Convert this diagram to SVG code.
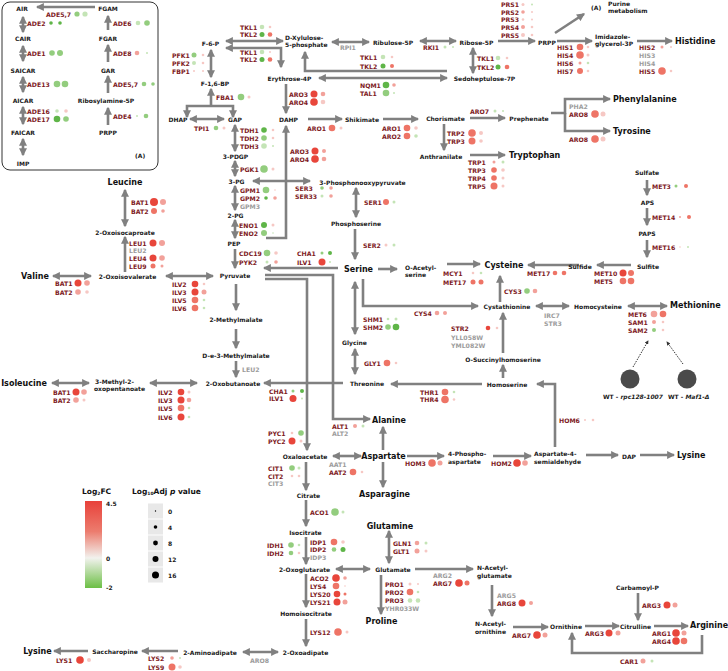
<svg xmlns="http://www.w3.org/2000/svg" width="728" height="671" viewBox="0 0 728 671">
<style>
text{font-family:"DejaVu Sans",Verdana,sans-serif;font-weight:bold;dominant-baseline:central}
.m{font-size:6px;fill:#1a1a1a}
.mc{font-size:6px;fill:#1a1a1a;text-anchor:middle}
.b{font-size:8px;fill:#111}
.bc{font-size:8px;fill:#111;text-anchor:middle}
.g{font-size:6.2px;fill:#7e1a1e}
.gg{font-size:6.2px;fill:#9c9c9c}
.R1{fill:#e8463b}.R2{fill:#ee7466}.R3{fill:#f2a19a}.R4{fill:#f6c8c4}
.G1{fill:#5fb548}.G2{fill:#93cd7e}.G3{fill:#c4e4b6}
#conn path{fill:none;stroke:#808080;stroke-width:2.6}
#conn .a{marker-end:url(#ah)}
#conn .d{marker-start:url(#ah);marker-end:url(#ah)}
#conn .dot{stroke:#333;stroke-width:1;stroke-dasharray:1.5 1.2;marker-end:url(#ahs)}
</style>
<defs>
<marker id="ah" viewBox="0 0 10 10" refX="8.5" refY="5" markerWidth="3.3" markerHeight="3.1" orient="auto-start-reverse"><path d="M0,0 L10,5 L0,10 z" fill="#808080"/></marker>
<marker id="ahs" viewBox="0 0 10 10" refX="8" refY="5" markerWidth="4" markerHeight="4" orient="auto"><path d="M0,0 L10,5 L0,10 z" fill="#333"/></marker>
<linearGradient id="fc" x1="0" y1="0" x2="0" y2="1">
<stop offset="0" stop-color="#e8413a"/><stop offset="0.35" stop-color="#ec7c6e"/><stop offset="0.655" stop-color="#f2f2ee"/><stop offset="1" stop-color="#6cbf45"/>
</linearGradient>
</defs>
<rect width="728" height="671" fill="#fff"/>
<rect x="2" y="2" width="156" height="168" rx="8" fill="#fff" stroke="#333" stroke-width="1"/>

<g id="conn">
<path class="a" d="M95,7 H37"/>
<path class="d" d="M23,17 V32"/>
<path class="d" d="M23,46 V61"/>
<path class="d" d="M23,77 V92"/>
<path class="d" d="M23,107 V124"/>
<path class="d" d="M23,139 V155"/>
<path class="a" d="M108,30 V16"/>
<path class="a" d="M108,62 V45"/>
<path class="a" d="M108,93 V76"/>
<path class="a" d="M108,125 V108"/>
<path class="d" d="M125,190 V226"/>
<path class="a" d="M125,272 V237"/>
<path class="d" d="M53,276 H91"/>
<path class="d" d="M166,276 H213"/>
<path class="d" d="M52,383 H89"/>
<path class="d" d="M150,383 H197"/>
<path class="d" d="M211,50 V77"/>
<path class="d" d="M187,117 V106 H233 V117"/>
<path class="a" d="M211,106 V89"/>
<path class="d" d="M190,119 H224"/>
<path class="d" d="M235,125 V151"/>
<path class="d" d="M235,161 V176"/>
<path class="d" d="M235,186 V210"/>
<path class="d" d="M235,220 V238"/>
<path class="a" d="M235,249 V268"/>
<path class="d" d="M226,41 H283"/>
<path class="d" d="M226,48 H281 V67"/>
<path class="a" d="M447,71 H305 V52"/>
<path class="d" d="M319,78 H447"/>
<path class="d" d="M332,42 H369"/>
<path class="d" d="M420,41 H456"/>
<path class="a" d="M498,41 H535"/>
<path class="d" d="M473,48 V73"/>
<path class="a" d="M555,33 L584,14"/>
<path class="a" d="M557,41 H592"/>
<path class="a" d="M637,41 H672"/>
<path class="a" d="M286,84 V113"/>
<path class="a" d="M266,238 H286 V126"/>
<path class="a" d="M308,119 H342"/>
<path class="a" d="M383,119 H418"/>
<path class="a" d="M470,118 H505"/>
<path class="a" d="M444,124 V150"/>
<path class="a" d="M470,155 H505"/>
<path class="a" d="M551,113 H565 V99 H610"/>
<path class="a" d="M565,113 V131 H610"/>
<path class="d" d="M253,181 H310"/>
<path class="d" d="M356,188 V217"/>
<path class="a" d="M355,229 V259"/>
<path class="a" d="M338,268 H264"/>
<path class="a" d="M265,275 H333 V419 H370"/>
<path class="a" d="M265,279 H307 V450"/>
<path class="a" d="M236,284 V310"/>
<path class="a" d="M236,329 V348"/>
<path class="a" d="M236,361 V377"/>
<path class="a" d="M343,383 H264"/>
<path class="d" d="M355,282 V334"/>
<path class="d" d="M355,349 V374"/>
<path class="a" d="M378,269 H397"/>
<path class="a" d="M447,264 H480"/>
<path class="a" d="M363,279 V306 H478"/>
<path class="a" d="M579,265 H528"/>
<path class="a" d="M631,265 H597"/>
<path class="a" d="M647,180 V195"/>
<path class="a" d="M647,208 V225"/>
<path class="a" d="M647,240 V257"/>
<path class="a" d="M500,302 V276"/>
<path class="d" d="M536,306 H569"/>
<path class="d" d="M628,306 H667"/>
<path class="a" d="M503,353 V313"/>
<path class="a" d="M503,378 V365"/>
<path class="a" d="M482,384 H391"/>
<path class="a" d="M555,447 V384 H537"/>
<path class="a" d="M383,450 V427"/>
<path class="d" d="M333,456 H361"/>
<path class="a" d="M407,456 H444"/>
<path class="a" d="M493,456 H531"/>
<path class="a" d="M586,455 H618"/>
<path class="a" d="M640,455 H674"/>
<path class="a" d="M383,462 V487"/>
<path class="a" d="M306,462 V490"/>
<path class="a" d="M306,500 V526"/>
<path class="a" d="M306,537 V564"/>
<path class="d" d="M336,569 H370"/>
<path class="d" d="M389,531 V563"/>
<path class="a" d="M415,569 H473"/>
<path class="a" d="M381,575 V614"/>
<path class="a" d="M306,574 V607"/>
<path class="a" d="M306,619 V646"/>
<path class="d" d="M243,652 H278"/>
<path class="a" d="M178,651 H142"/>
<path class="a" d="M88,651 H54"/>
<path class="a" d="M492,585 V616"/>
<path class="a" d="M513,627 H548"/>
<path class="a" d="M585,626 H619"/>
<path class="a" d="M654,626 H688"/>
<path class="a" d="M638,593 V620"/>
<path class="a" d="M702,635 V653 H572 V633"/>
<path class="dot" d="M633,367 L648,341"/>
<path class="dot" d="M683,364 L667,342"/>
</g>

<g id="n-air"><text class="mc" x="22" y="8">AIR</text></g>
<g id="n-cair"><text class="mc" x="23" y="38">CAIR</text></g>
<g id="n-saicar"><text class="mc" x="23" y="70">SAICAR</text></g>
<g id="n-aicar"><text class="mc" x="23" y="100">AICAR</text></g>
<g id="n-faicar"><text class="mc" x="23" y="132">FAICAR</text></g>
<g id="n-imp"><text class="mc" x="23" y="163">IMP</text></g>
<g id="n-fgam"><text class="mc" x="108" y="8">FGAM</text></g>
<g id="n-fgar"><text class="mc" x="108" y="38">FGAR</text></g>
<g id="n-gar"><text class="mc" x="108" y="70">GAR</text></g>
<g id="n-ribosylamine"><text class="mc" x="106" y="100">Ribosylamine-5P</text></g>
<g id="n-prpp-a"><text class="mc" x="108" y="132">PRPP</text></g>
<g id="n-a-label"><text class="m" x="135" y="155">(A)</text></g>

<g id="e-ade57a"><text class="g" x="46" y="14">ADE5,7</text><circle class="G2" cx="77" cy="14" r="2.6"/><circle class="G3" cx="85" cy="14" r="2.6"/></g>
<g id="e-ade2"><text class="g" x="27" y="23">ADE2</text><circle class="G1" cx="51" cy="23" r="1.8"/><circle class="G1" cx="60" cy="23" r="1.8"/></g>
<g id="e-ade1"><text class="g" x="27" y="53">ADE1</text><circle class="G2" cx="52" cy="53" r="2.8"/><circle class="G2" cx="60" cy="53" r="3"/></g>
<g id="e-ade13"><text class="g" x="27" y="84">ADE13</text><circle class="G2" cx="57" cy="84" r="3.3"/><circle class="G2" cx="65" cy="84" r="3.3"/></g>
<g id="e-ade16"><text class="g" x="27" y="111">ADE16</text><circle class="G3" cx="57" cy="111" r="1.8"/><circle class="R4" cx="66" cy="111" r="1.8"/></g>
<g id="e-ade17"><text class="g" x="27" y="119">ADE17</text><circle class="G1" cx="57" cy="119" r="3.3"/><circle class="G2" cx="66" cy="119" r="2.8"/></g>
<g id="e-ade6"><text class="g" x="113" y="23">ADE6</text><circle class="G3" cx="138" cy="23" r="2.3"/><circle class="G2" cx="147" cy="23" r="2.8"/></g>
<g id="e-ade8"><text class="g" x="113" y="53">ADE8</text><circle class="R3" cx="137" cy="53" r="2.3"/><circle class="G3" cx="147" cy="53" r="1"/></g>
<g id="e-ade57b"><text class="g" x="113" y="84">ADE5,7</text><circle class="G2" cx="144" cy="84" r="2.3"/><circle class="G2" cx="153" cy="84" r="1.8"/></g>
<g id="e-ade4"><text class="g" x="113" y="116">ADE4</text><circle class="G3" cx="137" cy="116" r="1"/><circle class="G2" cx="146" cy="116" r="2.3"/></g>

<g id="n-leucine"><text class="bc" x="125" y="182">Leucine</text></g>
<g id="n-oxoisocaproate"><text class="mc" x="125" y="232">2-Oxoisocaproate</text></g>
<g id="n-valine"><text class="bc" x="35" y="276">Valine</text></g>
<g id="n-oxoisovalerate"><text class="mc" x="127.5" y="276">2-Oxoisovalerate</text></g>
<g id="n-isoleucine"><text class="bc" x="24" y="383">Isoleucine</text></g>
<g id="n-methyloxopentanoate"><text class="m" x="95" y="381">3-Methyl-2-</text><text class="m" x="94" y="388.5">oxopentanoate</text></g>
<g id="n-pyruvate"><text class="mc" x="235" y="275">Pyruvate</text></g>
<g id="n-methylmalate"><text class="mc" x="236" y="319">2-Methylmalate</text></g>
<g id="n-de3methylmalate"><text class="mc" x="236" y="355">D-e-3-Methylmalate</text></g>
<g id="n-oxobutanoate"><text class="mc" x="233" y="383">2-Oxobutanoate</text></g>

<g id="e-bat1a"><text class="g" x="131" y="202">BAT1</text><circle class="R1" cx="154" cy="202" r="4"/><circle class="R3" cx="163" cy="202" r="3"/></g>
<g id="e-bat2a"><text class="g" x="131" y="211">BAT2</text><circle class="R2" cx="154" cy="211" r="3"/><circle class="R3" cx="163" cy="211" r="1.8"/></g>
<g id="e-leu1"><text class="g" x="129" y="243">LEU1</text><circle class="R1" cx="153" cy="243" r="3.5"/><circle class="R3" cx="162" cy="243" r="3"/></g>
<g id="e-leu2a"><text class="gg" x="129" y="250.5">LEU2</text></g>
<g id="e-leu4"><text class="g" x="129" y="258">LEU4</text><circle class="R1" cx="153" cy="258" r="3.5"/><circle class="R3" cx="162" cy="258" r="2.8"/></g>
<g id="e-leu9"><text class="g" x="129" y="266">LEU9</text><circle class="R2" cx="153" cy="266" r="2.5"/><circle class="R3" cx="162" cy="266" r="1.5"/></g>
<g id="e-bat1b"><text class="g" x="55" y="283">BAT1</text><circle class="R1" cx="78" cy="283" r="3.5"/><circle class="R3" cx="87" cy="283" r="2.8"/></g>
<g id="e-bat2b"><text class="g" x="55" y="292">BAT2</text><circle class="R3" cx="78" cy="292" r="2.8"/><circle class="R4" cx="87" cy="292" r="1.8"/></g>
<g id="e-ilv2a"><text class="g" x="172" y="284">ILV2</text><circle class="R1" cx="195" cy="284" r="3.3"/><circle class="R4" cx="204" cy="284" r="1.3"/></g>
<g id="e-ilv3a"><text class="g" x="172" y="292">ILV3</text><circle class="R1" cx="195" cy="292" r="3.5"/><circle class="R3" cx="204" cy="292" r="2.5"/></g>
<g id="e-ilv5a"><text class="g" x="172" y="300">ILV5</text><circle class="R2" cx="195" cy="300" r="3.3"/><circle class="G3" cx="204" cy="300" r="1.3"/></g>
<g id="e-ilv6a"><text class="g" x="172" y="308">ILV6</text><circle class="R2" cx="195" cy="308" r="3.3"/><circle class="G3" cx="204" cy="308" r="1.3"/></g>
<g id="e-bat1c"><text class="g" x="53" y="392">BAT1</text><circle class="R1" cx="76" cy="392" r="3.5"/><circle class="R3" cx="84" cy="392" r="2.8"/></g>
<g id="e-bat2c"><text class="g" x="53" y="400">BAT2</text><circle class="R3" cx="76" cy="400" r="2.8"/><circle class="R4" cx="84" cy="400" r="1.5"/></g>
<g id="e-ilv2b"><text class="g" x="158" y="392">ILV2</text><circle class="R1" cx="181" cy="392" r="3.3"/><circle class="R4" cx="189" cy="392" r="1.5"/></g>
<g id="e-ilv3b"><text class="g" x="158" y="400">ILV3</text><circle class="R1" cx="181" cy="400" r="3.5"/><circle class="R3" cx="189" cy="400" r="2.3"/></g>
<g id="e-ilv5b"><text class="g" x="158" y="408">ILV5</text><circle class="R2" cx="181" cy="408" r="3.3"/><circle class="G3" cx="189" cy="408" r="1.3"/></g>
<g id="e-ilv6b"><text class="g" x="158" y="417">ILV6</text><circle class="R1" cx="181" cy="417" r="3.5"/><circle class="G3" cx="189" cy="417" r="1.3"/></g>

<g id="n-f6p"><text class="mc" x="210.5" y="43">F-6-P</text></g>
<g id="n-f16bp"><text class="mc" x="215" y="83">F-1,6-BP</text></g>
<g id="n-dhap"><text class="mc" x="178" y="119">DHAP</text></g>
<g id="n-gap"><text class="mc" x="235" y="119">GAP</text></g>
<g id="n-3pdgp"><text class="mc" x="235.5" y="156">3-PDGP</text></g>
<g id="n-3pg"><text class="mc" x="236.5" y="181">3-PG</text></g>
<g id="n-2pg"><text class="mc" x="235.5" y="215">2-PG</text></g>
<g id="n-pep"><text class="mc" x="234" y="243">PEP</text></g>
<g id="n-xylulose"><text class="m" x="285" y="37">D-Xylulose-</text><text class="m" x="285" y="44.5">5-phosphate</text></g>
<g id="n-erythrose"><text class="mc" x="289.5" y="78">Erythrose-4P</text></g>
<g id="n-dahp"><text class="mc" x="288.5" y="119">DAHP</text></g>
<g id="n-shikimate"><text class="mc" x="362" y="119">Shikimate</text></g>
<g id="n-ribulose"><text class="mc" x="393" y="42">Ribulose-5P</text></g>
<g id="n-ribose"><text class="mc" x="476.5" y="42">Ribose-5P</text></g>
<g id="n-sedoheptulose"><text class="mc" x="484.5" y="78">Sedoheptulose-7P</text></g>
<g id="n-prpp"><text class="mc" x="547" y="42">PRPP</text></g>
<g id="n-purine"><text class="m" x="591" y="7">(A)</text><text class="m" x="608" y="3">Purine</text><text class="m" x="608" y="10.5">metabolism</text></g>
<g id="n-imidazole"><text class="m" x="595" y="36">Imidazole-</text><text class="m" x="595" y="43.5">glycerol-3P</text></g>
<g id="n-histidine"><text class="b" x="675" y="41">Histidine</text></g>
<g id="n-chorismate"><text class="mc" x="445.5" y="118">Chorismate</text></g>
<g id="n-prephenate"><text class="mc" x="529" y="118">Prephenate</text></g>
<g id="n-anthranilate"><text class="mc" x="441" y="156">Anthranilate</text></g>
<g id="n-tryptophan"><text class="b" x="509" y="155">Tryptophan</text></g>
<g id="n-phenylalanine"><text class="b" x="613" y="99">Phenylalanine</text></g>
<g id="n-tyrosine"><text class="b" x="613" y="131">Tyrosine</text></g>
<g id="n-phosphonooxypyruvate"><text class="mc" x="362.5" y="182">3-Phosphonooxypyruvate</text></g>
<g id="n-phosphoserine"><text class="mc" x="356" y="223">Phosphoserine</text></g>
<g id="n-serine"><text class="bc" x="358.5" y="269">Serine</text></g>
<g id="n-oacetylserine"><text class="m" x="405" y="267">O-Acetyl-</text><text class="m" x="405" y="274.5">serine</text></g>
<g id="n-cysteine"><text class="bc" x="504" y="265">Cysteine</text></g>
<g id="n-sulfate"><text class="mc" x="647" y="172">Sulfate</text></g>
<g id="n-aps"><text class="mc" x="647.5" y="202">APS</text></g>
<g id="n-paps"><text class="mc" x="647" y="233">PAPS</text></g>
<g id="n-sulfite"><text class="mc" x="648" y="266">Sulfite</text></g>
<g id="n-sulfide"><text class="mc" x="580" y="266">Sulfide</text></g>
<g id="n-cystathionine"><text class="mc" x="507" y="306">Cystathionine</text></g>
<g id="n-homocysteine"><text class="mc" x="598" y="306">Homocysteine</text></g>
<g id="n-methionine"><text class="b" x="670" y="305">Methionine</text></g>
<g id="n-glycine"><text class="mc" x="354.5" y="342">Glycine</text></g>
<g id="n-osuccinylhomoserine"><text class="mc" x="503" y="359">O-Succinylhomoserine</text></g>
<g id="n-threonine"><text class="mc" x="367" y="383">Threonine</text></g>
<g id="n-homoserine"><text class="mc" x="507" y="384">Homoserine</text></g>
<g id="n-alanine"><text class="b" x="372" y="420">Alanine</text></g>
<g id="n-oxaloacetate"><text class="mc" x="305" y="456">Oxaloacetate</text></g>
<g id="n-aspartate"><text class="bc" x="383.5" y="456">Aspartate</text></g>
<g id="n-phosphoaspartate"><text class="m" x="448" y="453">4-Phospho-</text><text class="m" x="448" y="461">aspartate</text></g>
<g id="n-semialdehyde"><text class="m" x="534" y="453">Aspartate-4-</text><text class="m" x="534" y="461">semialdehyde</text></g>
<g id="n-dap"><text class="mc" x="629" y="456">DAP</text></g>
<g id="n-lysine-r"><text class="b" x="677" y="455">Lysine</text></g>
<g id="n-asparagine"><text class="bc" x="384.5" y="494">Asparagine</text></g>
<g id="n-citrate"><text class="mc" x="308.5" y="495">Citrate</text></g>
<g id="n-isocitrate"><text class="mc" x="305.5" y="532">Isocitrate</text></g>
<g id="n-glutamine"><text class="bc" x="390" y="526">Glutamine</text></g>
<g id="n-oxoglutarate"><text class="mc" x="304.5" y="569">2-Oxoglutarate</text></g>
<g id="n-glutamate"><text class="mc" x="393" y="569">Glutamate</text></g>
<g id="n-nacetylglutamate"><text class="m" x="477" y="567">N-Acetyl-</text><text class="m" x="477" y="575">glutamate</text></g>
<g id="n-homoisocitrate"><text class="mc" x="306" y="613">Homoisocitrate</text></g>
<g id="n-proline"><text class="bc" x="381.5" y="621">Proline</text></g>
<g id="n-nacetylornithine"><text class="m" x="475" y="623">N-Acetyl-</text><text class="m" x="475" y="631.5">ornithine</text></g>
<g id="n-ornithine"><text class="mc" x="566" y="626">Ornithine</text></g>
<g id="n-carbamoylp"><text class="mc" x="637.5" y="587">Carbamoyl-P</text></g>
<g id="n-citrulline"><text class="mc" x="635.5" y="626">Citrulline</text></g>
<g id="n-arginine"><text class="b" x="690" y="625">Arginine</text></g>
<g id="n-oxoadipate"><text class="mc" x="305.5" y="652">2-Oxoadipate</text></g>
<g id="n-aminoadipate"><text class="mc" x="210" y="652">2-Aminoadipate</text></g>
<g id="n-saccharopine"><text class="mc" x="115" y="651">Saccharopine</text></g>
<g id="n-lysine-l"><text class="bc" x="37.5" y="651">Lysine</text></g>

<g id="e-pfk1"><text class="g" x="172" y="55">PFK1</text><circle class="G2" cx="194" cy="55" r="2.5"/><circle class="R4" cx="203" cy="55" r="1.3"/></g>
<g id="e-pfk2"><text class="g" x="172" y="63">PFK2</text><circle class="G3" cx="194" cy="63" r="2"/><circle class="R4" cx="203" cy="63" r="1.3"/></g>
<g id="e-fbp1"><text class="g" x="172" y="71">FBP1</text><circle class="R4" cx="194" cy="71" r="1"/><circle class="R4" cx="203" cy="71" r="1"/></g>
<g id="e-tkl1a"><text class="g" x="240" y="27">TKL1</text><circle class="G3" cx="262" cy="27" r="2.3"/><circle class="R4" cx="270" cy="27" r="1.3"/></g>
<g id="e-tkl2a"><text class="g" x="240" y="34.5">TKL2</text><circle class="G1" cx="262" cy="34.5" r="2.5"/><circle class="R2" cx="270" cy="34.5" r="2.3"/></g>
<g id="e-tkl1b"><text class="g" x="240" y="52">TKL1</text><circle class="G3" cx="262" cy="52" r="2.3"/><circle class="R4" cx="270" cy="52" r="1"/></g>
<g id="e-tkl2b"><text class="g" x="240" y="59.5">TKL2</text><circle class="G1" cx="262" cy="59.5" r="2.5"/><circle class="R2" cx="270" cy="59.5" r="2.3"/></g>
<g id="e-fba1"><text class="g" x="216" y="97">FBA1</text><circle class="G2" cx="241" cy="97" r="3.3"/><circle class="R4" cx="249" cy="97" r="1.5"/></g>
<g id="e-tpi1"><text class="g" x="194" y="128">TPI1</text><circle class="G2" cx="216" cy="128" r="2.3"/><circle class="R4" cx="224" cy="128" r="1.5"/></g>
<g id="e-tdh1"><text class="g" x="240" y="130">TDH1</text><circle class="G1" cx="264" cy="130" r="2.8"/><circle class="R4" cx="273" cy="130" r="1.3"/></g>
<g id="e-tdh2"><text class="g" x="240" y="138">TDH2</text><circle class="G2" cx="264" cy="138" r="2.8"/><circle class="R4" cx="273" cy="138" r="1.3"/></g>
<g id="e-tdh3"><text class="g" x="240" y="146">TDH3</text><circle class="G3" cx="264" cy="146" r="2.8"/><circle class="G3" cx="273" cy="146" r="1"/></g>
<g id="e-pgk1"><text class="g" x="240" y="169">PGK1</text><circle class="G2" cx="264" cy="169" r="3.8"/><circle class="R4" cx="273" cy="169" r="1.5"/></g>
<g id="e-gpm1"><text class="g" x="240" y="190">GPM1</text><circle class="G2" cx="266" cy="190" r="3.3"/><circle class="R4" cx="275" cy="190" r="0.8"/></g>
<g id="e-gpm2"><text class="g" x="240" y="198">GPM2</text><circle class="G1" cx="266" cy="198" r="1.8"/><circle class="R3" cx="275" cy="198" r="1.8"/></g>
<g id="e-gpm3"><text class="gg" x="240" y="206">GPM3</text></g>
<g id="e-eno1"><text class="g" x="239" y="225">ENO1</text><circle class="G1" cx="264" cy="225" r="3"/><circle class="R4" cx="273" cy="225" r="1.5"/></g>
<g id="e-eno2"><text class="g" x="239" y="233">ENO2</text><circle class="G2" cx="264" cy="233" r="3"/><circle class="G3" cx="273" cy="233" r="0.8"/></g>
<g id="e-cdc19"><text class="g" x="239" y="253">CDC19</text><circle class="G2" cx="267" cy="253" r="3.3"/><circle class="R4" cx="276" cy="253" r="1.8"/></g>
<g id="e-pyk2"><text class="g" x="239" y="262">PYK2</text><circle class="G3" cx="267" cy="262" r="1.5"/><circle class="R3" cx="276" cy="262" r="1.8"/></g>
<g id="e-aro3a"><text class="g" x="289" y="94">ARO3</text><circle class="R1" cx="314" cy="94" r="3.5"/><circle class="R3" cx="323" cy="94" r="2.3"/></g>
<g id="e-aro4a"><text class="g" x="289" y="102">ARO4</text><circle class="R1" cx="314" cy="102" r="3.8"/><circle class="R4" cx="323" cy="102" r="2.3"/></g>
<g id="e-aro1a"><text class="g" x="307" y="128">ARO1</text><circle class="R2" cx="332" cy="128" r="3.3"/><circle class="R4" cx="341" cy="128" r="1.5"/></g>
<g id="e-aro3b"><text class="g" x="290" y="151">ARO3</text><circle class="R1" cx="315" cy="151" r="3.5"/><circle class="R3" cx="324" cy="151" r="2"/></g>
<g id="e-aro4b"><text class="g" x="290" y="159">ARO4</text><circle class="R1" cx="315" cy="159" r="3.8"/><circle class="R3" cx="324" cy="159" r="2.3"/></g>
<g id="e-ser3"><text class="g" x="295" y="188">SER3</text><circle class="G2" cx="322" cy="188" r="1.8"/><circle class="R3" cx="331" cy="188" r="1.8"/></g>
<g id="e-ser33"><text class="g" x="295" y="196">SER33</text><circle class="G3" cx="322" cy="196" r="1.5"/><circle class="R3" cx="331" cy="196" r="1.8"/></g>
<g id="e-rpi1"><text class="gg" x="340" y="47">RPI1</text></g>
<g id="e-tkl1c"><text class="g" x="360" y="57">TKL1</text><circle class="G3" cx="383" cy="57" r="2.3"/><circle class="R4" cx="392" cy="57" r="1.3"/></g>
<g id="e-tkl2c"><text class="g" x="360" y="66">TKL2</text><circle class="G1" cx="383" cy="66" r="2.5"/><circle class="R2" cx="392" cy="66" r="2"/></g>
<g id="e-nqm1"><text class="g" x="360" y="85">NQM1</text><circle class="G1" cx="386" cy="85" r="3.3"/><circle class="R3" cx="394" cy="85" r="1.8"/></g>
<g id="e-tal1"><text class="g" x="360" y="93">TAL1</text><circle class="G2" cx="386" cy="93" r="3.3"/><circle class="G3" cx="394" cy="93" r="1"/></g>
<g id="e-rki1"><text class="g" x="423" y="47">RKI1</text><circle class="G3" cx="445" cy="47" r="1.5"/><circle class="G3" cx="453" cy="47" r="1"/></g>
<g id="e-tkl1d"><text class="g" x="477" y="58">TKL1</text><circle class="G3" cx="498" cy="58" r="2.3"/><circle class="R4" cx="507" cy="58" r="1.3"/></g>
<g id="e-tkl2d"><text class="g" x="477" y="67">TKL2</text><circle class="G1" cx="498" cy="67" r="2.5"/><circle class="R2" cx="507" cy="67" r="2.3"/></g>
<g id="e-prs1"><text class="g" x="501" y="4.5">PRS1</text><circle class="R4" cx="523" cy="4.5" r="1.5"/><circle class="G3" cx="532" cy="4.5" r="1"/></g>
<g id="e-prs2"><text class="g" x="501" y="12">PRS2</text><circle class="R3" cx="523" cy="12" r="1.8"/><circle class="R4" cx="532" cy="12" r="1"/></g>
<g id="e-prs3"><text class="g" x="501" y="19.5">PRS3</text><circle class="R4" cx="523" cy="19.5" r="1.3"/><circle class="R4" cx="532" cy="19.5" r="1"/></g>
<g id="e-prs4"><text class="g" x="501" y="27">PRS4</text><circle class="R3" cx="523" cy="27" r="2"/><circle class="R4" cx="532" cy="27" r="1.3"/></g>
<g id="e-prs5"><text class="g" x="501" y="35">PRS5</text><circle class="R4" cx="523" cy="35" r="2"/><circle class="R4" cx="532" cy="35" r="1.3"/></g>
<g id="e-his1"><text class="g" x="557" y="47">HIS1</text><circle class="R2" cx="580" cy="47" r="3.3"/><circle class="R4" cx="588" cy="47" r="1.3"/></g>
<g id="e-his4a"><text class="g" x="557" y="55">HIS4</text><circle class="R2" cx="580" cy="55" r="3.8"/><circle class="R4" cx="588" cy="55" r="1.5"/></g>
<g id="e-his6"><text class="g" x="557" y="63">HIS6</text><circle class="R3" cx="580" cy="63" r="1.5"/><circle class="G3" cx="588" cy="63" r="1.3"/></g>
<g id="e-his7"><text class="g" x="557" y="71">HIS7</text><circle class="R2" cx="580" cy="71" r="3"/><circle class="R4" cx="588" cy="71" r="1.3"/></g>
<g id="e-his2"><text class="g" x="639" y="47">HIS2</text><circle class="R3" cx="662" cy="47" r="1.5"/><circle class="R4" cx="671" cy="47" r="1"/></g>
<g id="e-his3"><text class="gg" x="639" y="55">HIS3</text></g>
<g id="e-his4b"><text class="gg" x="639" y="63">HIS4</text></g>
<g id="e-his5"><text class="g" x="639" y="71">HIS5</text><circle class="R2" cx="662" cy="71" r="3.8"/><circle class="R4" cx="671" cy="71" r="1.3"/></g>
<g id="e-aro1b"><text class="g" x="382" y="128">ARO1</text><circle class="R2" cx="407" cy="128" r="3.3"/><circle class="R4" cx="416" cy="128" r="1.8"/></g>
<g id="e-aro2"><text class="g" x="382" y="136">ARO2</text><circle class="R2" cx="407" cy="136" r="3.3"/><circle class="G3" cx="416" cy="136" r="1.8"/></g>
<g id="e-aro7"><text class="g" x="470" y="111">ARO7</text><circle class="G3" cx="495" cy="111" r="1.5"/><circle class="G3" cx="503" cy="111" r="1"/></g>
<g id="e-trp2"><text class="g" x="447" y="133">TRP2</text><circle class="R2" cx="472" cy="133" r="3.8"/><circle class="R4" cx="481" cy="133" r="2"/></g>
<g id="e-trp3a"><text class="g" x="447" y="141">TRP3</text><circle class="R2" cx="472" cy="141" r="3.5"/><circle class="R4" cx="481" cy="141" r="1.8"/></g>
<g id="e-trp1"><text class="g" x="468" y="162">TRP1</text><circle class="R3" cx="494" cy="162" r="1.5"/><circle class="G3" cx="503" cy="162" r="1.5"/></g>
<g id="e-trp3b"><text class="g" x="468" y="170">TRP3</text><circle class="R2" cx="494" cy="170" r="2.8"/><circle class="R4" cx="503" cy="170" r="1.8"/></g>
<g id="e-trp4"><text class="g" x="468" y="178">TRP4</text><circle class="R2" cx="494" cy="178" r="2.8"/><circle class="R4" cx="503" cy="178" r="1.5"/></g>
<g id="e-trp5"><text class="g" x="468" y="186">TRP5</text><circle class="R2" cx="494" cy="186" r="3.5"/><circle class="R4" cx="503" cy="186" r="1.5"/></g>
<g id="e-pha2"><text class="gg" x="569" y="106">PHA2</text></g>
<g id="e-aro8a"><text class="g" x="569" y="114">ARO8</text><circle class="R2" cx="595" cy="114" r="3.8"/><circle class="R4" cx="603" cy="114" r="2.5"/></g>
<g id="e-aro8b"><text class="g" x="569" y="139">ARO8</text><circle class="R2" cx="595" cy="139" r="3.8"/><circle class="R4" cx="603" cy="139" r="2.5"/></g>
<g id="e-ser1"><text class="g" x="364" y="202">SER1</text><circle class="R2" cx="386" cy="202" r="3"/><circle class="G3" cx="394" cy="202" r="1.5"/></g>
<g id="e-ser2"><text class="g" x="363" y="245">SER2</text><circle class="R4" cx="386" cy="245" r="1.5"/><circle class="G3" cx="394" cy="245" r="1.5"/></g>
<g id="e-met3"><text class="g" x="652" y="186">MET3</text><circle class="G2" cx="676" cy="186" r="1.5"/><circle class="R2" cx="686" cy="186" r="2"/></g>
<g id="e-met14"><text class="g" x="652" y="217">MET14</text><circle class="R3" cx="680" cy="217" r="1"/><circle class="R2" cx="689" cy="217" r="2"/></g>
<g id="e-met16"><text class="g" x="652" y="247">MET16</text><circle class="R4" cx="680" cy="247" r="0.8"/><circle class="G3" cx="688" cy="247" r="1"/></g>
<g id="e-met10"><text class="g" x="594" y="273">MET10</text><circle class="R1" cx="623" cy="273" r="3.5"/><circle class="R2" cx="631" cy="273" r="3"/></g>
<g id="e-met5"><text class="g" x="594" y="281">MET5</text><circle class="R2" cx="623" cy="281" r="3.3"/><circle class="R2" cx="631" cy="281" r="3.3"/></g>
<g id="e-met17a"><text class="g" x="527" y="273">MET17</text><circle class="R2" cx="555" cy="273" r="2.3"/><circle class="R2" cx="564" cy="273" r="2.3"/></g>
<g id="e-mcy1"><text class="g" x="443" y="273">MCY1</text><circle class="R4" cx="473" cy="273" r="1.3"/><circle class="G3" cx="481" cy="273" r="1.3"/></g>
<g id="e-met17b"><text class="g" x="443" y="282">MET17</text><circle class="R2" cx="473" cy="282" r="2.5"/><circle class="R2" cx="481" cy="282" r="2.5"/></g>
<g id="e-cys3"><text class="g" x="504" y="291">CYS3</text><circle class="G2" cx="527" cy="291" r="2.8"/><circle class="R3" cx="535" cy="291" r="2.3"/></g>
<g id="e-cys4"><text class="g" x="414" y="313">CYS4</text><circle class="R3" cx="437" cy="313" r="2.3"/><circle class="R3" cx="445" cy="313" r="2"/></g>
<g id="e-irc7"><text class="gg" x="544" y="315">IRC7</text><text class="gg" x="544" y="323">STR3</text></g>
<g id="e-met6"><text class="g" x="628" y="314">MET6</text><circle class="R3" cx="654" cy="314" r="3.3"/><circle class="R2" cx="663" cy="314" r="3.3"/></g>
<g id="e-sam1"><text class="g" x="628" y="322">SAM1</text><circle class="R3" cx="654" cy="322" r="2"/><circle class="R4" cx="663" cy="322" r="1.3"/></g>
<g id="e-sam2"><text class="g" x="628" y="330">SAM2</text><circle class="G2" cx="654" cy="330" r="2"/><circle class="R4" cx="663" cy="330" r="1.3"/></g>
<g id="e-cha1a"><text class="g" x="297" y="253">CHA1</text><circle class="G2" cx="322" cy="253" r="1.5"/><circle class="G1" cx="330" cy="253" r="2"/></g>
<g id="e-ilv1a"><text class="g" x="297" y="262">ILV1</text><circle class="R1" cx="322" cy="262" r="3.5"/><circle class="G3" cx="330" cy="262" r="1"/></g>
<g id="e-shm1"><text class="g" x="363" y="319">SHM1</text><circle class="G3" cx="388" cy="319" r="1.3"/><circle class="G3" cx="396" cy="319" r="1.5"/></g>
<g id="e-shm2"><text class="g" x="363" y="327">SHM2</text><circle class="G2" cx="388" cy="327" r="2.8"/><circle class="G1" cx="396" cy="327" r="3.3"/></g>
<g id="e-str2"><text class="g" x="451" y="328">STR2</text><circle class="R1" cx="488" cy="328" r="2.3"/><circle class="R4" cx="497" cy="328" r="1.3"/><text class="gg" x="451" y="337">YLL058W</text><text class="gg" x="451" y="345">YML082W</text></g>
<g id="e-gly1"><text class="g" x="364" y="363">GLY1</text><circle class="R2" cx="387" cy="363" r="3.3"/><circle class="R4" cx="396" cy="363" r="1.3"/></g>
<g id="e-leu2b"><text class="gg" x="242" y="369">LEU2</text></g>
<g id="e-cha1b"><text class="g" x="269" y="391">CHA1</text><circle class="G2" cx="293" cy="391" r="1.5"/><circle class="G1" cx="302" cy="391" r="2"/></g>
<g id="e-ilv1b"><text class="g" x="269" y="398.5">ILV1</text><circle class="R1" cx="293" cy="398.5" r="3.5"/><circle class="G3" cx="302" cy="398.5" r="1"/></g>
<g id="e-thr1"><text class="g" x="420" y="392">THR1</text><circle class="R2" cx="445" cy="392" r="3.3"/><circle class="G3" cx="454" cy="392" r="1.3"/></g>
<g id="e-thr4"><text class="g" x="420" y="399.5">THR4</text><circle class="R2" cx="445" cy="399.5" r="3.8"/><circle class="R4" cx="454" cy="399.5" r="1.3"/></g>
<g id="e-hom6"><text class="g" x="559" y="420">HOM6</text><circle class="R4" cx="585" cy="420" r="1"/><circle class="R4" cx="593" cy="420" r="1.3"/></g>
<g id="e-alt1"><text class="g" x="332" y="426">ALT1</text><circle class="R3" cx="355" cy="426" r="2"/><circle class="G3" cx="363" cy="426" r="1.5"/><text class="gg" x="332" y="433.5">ALT2</text></g>
<g id="e-pyc1"><text class="g" x="268" y="433">PYC1</text><circle class="R4" cx="292" cy="433" r="1.3"/><circle class="G2" cx="301" cy="433" r="2.8"/></g>
<g id="e-pyc2"><text class="g" x="268" y="441">PYC2</text><circle class="R1" cx="292" cy="441" r="3.5"/><circle class="R4" cx="301" cy="441" r="1.5"/></g>
<g id="e-aat"><text class="gg" x="329" y="464">AAT1</text><text class="g" x="329" y="472">AAT2</text><circle class="R2" cx="353" cy="472" r="3.3"/><circle class="R4" cx="362" cy="472" r="1.3"/></g>
<g id="e-hom3"><text class="g" x="405" y="463">HOM3</text><circle class="R2" cx="432" cy="463" r="3.8"/><circle class="R3" cx="440" cy="463" r="2.5"/></g>
<g id="e-hom2"><text class="g" x="491" y="463">HOM2</text><circle class="R1" cx="517" cy="463" r="3.8"/><circle class="R3" cx="525" cy="463" r="2.8"/></g>
<g id="e-cit1"><text class="g" x="268" y="468">CIT1</text><circle class="G2" cx="292" cy="468" r="2.8"/><circle class="G3" cx="299" cy="468" r="1.5"/></g>
<g id="e-cit2"><text class="g" x="268" y="476">CIT2</text><circle class="R4" cx="292" cy="476" r="1.3"/><circle class="R4" cx="299" cy="476" r="1.3"/><text class="gg" x="268" y="483">CIT3</text></g>
<g id="e-aco1"><text class="g" x="310" y="512">ACO1</text><circle class="G2" cx="335" cy="512" r="3.8"/><circle class="G3" cx="343" cy="512" r="1.5"/></g>
<g id="e-idh1"><text class="g" x="267" y="545">IDH1</text><circle class="G2" cx="291" cy="545" r="2.8"/><circle class="G3" cx="299" cy="545" r="1.3"/></g>
<g id="e-idh2"><text class="g" x="267" y="553">IDH2</text><circle class="G2" cx="291" cy="553" r="2.3"/><circle class="R4" cx="299" cy="553" r="1.3"/></g>
<g id="e-idp1"><text class="g" x="310" y="542">IDP1</text><circle class="R2" cx="334" cy="542" r="3.3"/><circle class="R4" cx="343" cy="542" r="1.8"/></g>
<g id="e-idp2"><text class="g" x="310" y="549.5">IDP2</text><circle class="G2" cx="334" cy="549.5" r="2.3"/><circle class="G1" cx="343" cy="549.5" r="2.5"/><text class="gg" x="310" y="557">IDP3</text></g>
<g id="e-gln1"><text class="g" x="393" y="543">GLN1</text><circle class="R3" cx="417" cy="543" r="2.3"/><circle class="G3" cx="426" cy="543" r="1.5"/></g>
<g id="e-glt1"><text class="g" x="393" y="551">GLT1</text><circle class="R3" cx="417" cy="551" r="2.5"/><circle class="R4" cx="426" cy="551" r="1.5"/></g>
<g id="e-aco2"><text class="g" x="310" y="578">ACO2</text><circle class="R1" cx="336" cy="578" r="3.8"/><circle class="R3" cx="345" cy="578" r="1.8"/></g>
<g id="e-lys4"><text class="g" x="310" y="586">LYS4</text><circle class="R2" cx="336" cy="586" r="3.3"/><circle class="R4" cx="345" cy="586" r="0.8"/></g>
<g id="e-lys20"><text class="g" x="310" y="594">LYS20</text><circle class="R1" cx="337" cy="594" r="3.3"/><circle class="R2" cx="345" cy="594" r="1.5"/></g>
<g id="e-lys21"><text class="g" x="310" y="602">LYS21</text><circle class="R1" cx="337" cy="602" r="3.5"/><circle class="R3" cx="345" cy="602" r="2.5"/></g>
<g id="e-arg7a"><text class="gg" x="433" y="575">ARG2</text><text class="g" x="433" y="583">ARG7</text><circle class="R1" cx="459" cy="583" r="3.8"/><circle class="R2" cx="467" cy="583" r="2.5"/></g>
<g id="e-pro1"><text class="g" x="385" y="584">PRO1</text><circle class="R4" cx="410" cy="584" r="1.5"/><circle class="R4" cx="418" cy="584" r="1"/></g>
<g id="e-pro2"><text class="g" x="385" y="592">PRO2</text><circle class="R2" cx="410" cy="592" r="3.3"/><circle class="G3" cx="418" cy="592" r="1.3"/></g>
<g id="e-pro3"><text class="g" x="385" y="600.5">PRO3</text><circle class="G3" cx="410" cy="600.5" r="2.3"/><circle class="G3" cx="418" cy="600.5" r="2.3"/><text class="gg" x="385" y="608">YHR033W</text></g>
<g id="e-arg8"><text class="gg" x="497" y="595">ARG5</text><text class="g" x="497" y="603">ARG8</text><circle class="R1" cx="522" cy="603" r="3.5"/><circle class="R3" cx="531" cy="603" r="2"/></g>
<g id="e-arg3a"><text class="g" x="642" y="605">ARG3</text><circle class="R1" cx="667" cy="605" r="3.5"/><circle class="R3" cx="675" cy="605" r="2.5"/></g>
<g id="e-lys12"><text class="g" x="310" y="632">LYS12</text><circle class="R2" cx="338" cy="632" r="3.8"/><circle class="R4" cx="347" cy="632" r="1.5"/></g>
<g id="e-arg7b"><text class="g" x="512" y="635">ARG7</text><circle class="R1" cx="537" cy="635" r="3.8"/><circle class="R3" cx="545" cy="635" r="2.5"/></g>
<g id="e-arg3b"><text class="g" x="585" y="633">ARG3</text><circle class="R1" cx="609" cy="633" r="3.5"/><circle class="R3" cx="618" cy="633" r="2.5"/></g>
<g id="e-arg1"><text class="g" x="652" y="633">ARG1</text><circle class="R1" cx="676" cy="633" r="3.8"/><circle class="R3" cx="684" cy="633" r="2.5"/></g>
<g id="e-arg4"><text class="g" x="652" y="641">ARG4</text><circle class="R1" cx="676" cy="641" r="3.8"/><circle class="R2" cx="684" cy="641" r="3.3"/></g>
<g id="e-car1"><text class="g" x="620" y="661">CAR1</text><circle class="R3" cx="643" cy="661" r="2.5"/><circle class="G3" cx="652" cy="661" r="1.5"/></g>
<g id="e-aro8c"><text class="gg" x="250" y="660">ARO8</text></g>
<g id="e-lys1"><text class="g" x="56" y="660">LYS1</text><circle class="R1" cx="80" cy="660" r="3.8"/><circle class="R4" cx="89" cy="660" r="2"/></g>
<g id="e-lys2"><text class="g" x="148" y="658">LYS2</text><circle class="R3" cx="172" cy="658" r="1.8"/><circle class="G3" cx="180" cy="658" r="1"/></g>
<g id="e-lys9"><text class="g" x="148" y="667">LYS9</text><circle class="R2" cx="172" cy="667" r="3.5"/><circle class="R4" cx="180" cy="667" r="1.8"/></g>

<g id="strains">
<circle cx="630" cy="379" r="9.5" fill="#4a4a4a"/>
<circle cx="687" cy="379" r="9.5" fill="#4a4a4a"/>
<text class="m" x="603" y="396">WT - <tspan font-style="italic">rpc128-1007</tspan></text>
<text class="m" x="668" y="396">WT - <tspan font-style="italic">Maf1-Δ</tspan></text>
</g>

<g id="legend">
<text style="font-size:7.5px;fill:#111" x="82" y="491">Log<tspan font-size="4.5" dy="1.5">2</tspan><tspan dy="-1.5">FC</tspan></text>
<rect x="85" y="501" width="17" height="87" fill="url(#fc)"/>
<text class="m" x="106" y="503">4.5</text>
<text class="m" x="106" y="558">0</text>
<text class="m" x="106" y="587">-2</text>
<text style="font-size:7.5px;fill:#111" x="132" y="491">Log<tspan font-size="4.5" dy="1.5">10</tspan><tspan dy="-1.5">Adj </tspan><tspan font-style="italic">p</tspan> value</text>
<rect x="148" y="503.5" width="15" height="15" fill="#e8e8e8"/>
<rect x="148" y="519.5" width="15" height="15" fill="#e8e8e8"/>
<rect x="148" y="535.5" width="15" height="15" fill="#e8e8e8"/>
<rect x="148" y="551.5" width="15" height="15" fill="#e8e8e8"/>
<rect x="148" y="567.5" width="15" height="15" fill="#e8e8e8"/>
<circle cx="155.5" cy="511" r="0.7" fill="#000"/>
<circle cx="155.5" cy="527" r="1.8" fill="#000"/>
<circle cx="155.5" cy="543" r="2.4" fill="#000"/>
<circle cx="155.5" cy="559" r="3" fill="#000"/>
<circle cx="155.5" cy="575" r="3.5" fill="#000"/>
<text class="m" x="168" y="511">0</text>
<text class="m" x="168" y="527">4</text>
<text class="m" x="168" y="543">8</text>
<text class="m" x="168" y="559">12</text>
<text class="m" x="168" y="575">16</text>
</g>
</svg>
